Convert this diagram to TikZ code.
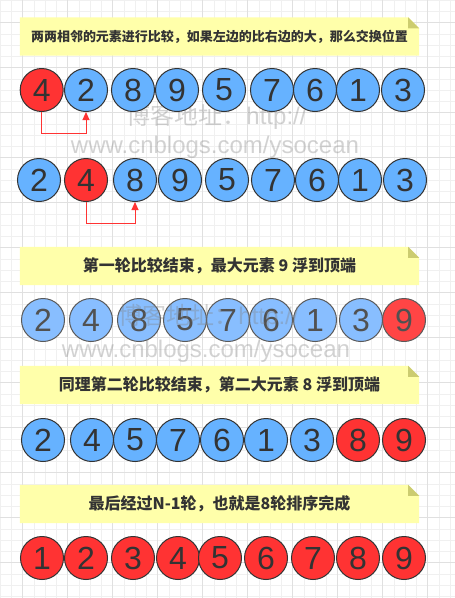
\documentclass[tikz,border=0pt]{standalone}
\usepackage{fontspec}
\setmainfont{Liberation Sans}
\newfontfamily\cjk{Noto Sans CJK SC}
\usetikzlibrary{arrows.meta,backgrounds}
\definecolor{cred}{HTML}{FF3333}
\definecolor{cblue}{HTML}{66B2FF}
\definecolor{cline}{HTML}{333333}
\definecolor{lred}{HTML}{FF4545}
\definecolor{lblue}{HTML}{88BEFF}
\definecolor{lline}{HTML}{5A5A5A}
\definecolor{notefill}{HTML}{FFFFAA}
\definecolor{foldfill}{HTML}{CCCC70}
\definecolor{gridminor}{HTML}{F0F0F0}
\definecolor{gridmajor}{HTML}{E0E0E0}
\tikzset{
  ball/.style={circle,minimum size=43pt,inner sep=0pt,draw=cline,line width=1pt,
    text=cline,font=\fontsize{32}{32}\selectfont},
  redball/.style={ball,fill=cred},
  blueball/.style={ball,fill=cblue},
  lredball/.style={ball,fill=lred,draw=lline,text=lline!90!black},
  lblueball/.style={ball,fill=lblue,draw=lline,text=lline!90!black},
  notetext/.style={minimum width=399pt,minimum height=38pt,inner sep=0pt,
    text=cline,font=\cjk\bfseries\fontsize{13}{13}\selectfont},
  bignote/.style={notetext,font=\cjk\bfseries\fontsize{16}{16}\selectfont},
  redarrow/.style={draw=cred,line width=1pt,-{Triangle[length=8pt,width=7pt]}},
  wmark/.style={text=gray,text opacity=0.35,font=\fontsize{24}{24}\selectfont,inner sep=0pt}
}
\begin{document}
\begin{tikzpicture}[x=1pt,y=-1pt]
\useasboundingbox (0,0) rectangle (455,598);
\begin{scope}[on background layer]
  \fill[white] (0,0) rectangle (455,598);
  \foreach \i in {0,...,53} {
    \draw[gridminor,line width=0.6pt] ({0.2+11.25*\i},0) -- ({0.2+11.25*\i},598);
    \draw[gridminor,line width=0.6pt] (0,{0.2+11.25*\i}) -- (455,{0.2+11.25*\i});
  }
  \foreach \i in {0,...,12} {
    \draw[gridmajor,line width=0.6pt] ({22.7+45*\i},0) -- ({22.7+45*\i},598);
    \draw[gridmajor,line width=0.6pt] (0,{22.7+45*\i}) -- (455,{22.7+45*\i});
  }
\end{scope}

% notes
\node[notetext] (n1) at (219.5,36.5) {两两相邻的元素进行比较，如果左边的比右边的大，那么交换位置};
\node[bignote] (n2) at (219.5,266) {第一轮比较结束，最大元素 9 浮到顶端};
\node[bignote] (n3) at (219.5,385) {同理第二轮比较结束，第二大元素 8 浮到顶端};
\node[bignote] (n4) at (219.5,504) {最后经过N-1轮，也就是8轮排序完成};
\begin{scope}[on background layer]
  \foreach \n in {n1,n2,n3,n4} {
    \fill[notefill] (\n.south west) -- (\n.north west) -- ([xshift=-11pt]\n.north east)
      -- ([yshift=-11pt]\n.north east) -- (\n.south east) -- cycle;
    \fill[foldfill] ([xshift=-11pt]\n.north east) -- ([xshift=-11pt,yshift=-11pt]\n.north east)
      -- ([yshift=-11pt]\n.north east) -- cycle;
  }
\end{scope}

% watermarks behind rows 1/2
\node[wmark] (w1) at (216.5,117) {{\cjk 博客地址：}http://};
\node[wmark] (w2) at (215,147) {www.cnblogs.com/ysocean};

% row 1
\foreach \x/\v/\s [count=\k] in {41.7/4/redball,86/2/blueball,133/8/blueball,177/9/blueball,224/5/blueball,272/7/blueball,315/6/blueball,358/1/blueball,403/3/blueball}
  \node[\s] (r1c\k) at (\x,90) {\v};
% row 2
\foreach \x/\v/\s [count=\k] in {39/2/blueball,86/4/redball,135/8/blueball,180/9/blueball,227/5/blueball,273/7/blueball,317/6/blueball,360/1/blueball,405/3/blueball}
  \node[\s] (r2c\k) at (\x,180) {\v};
% row 3
\foreach \x/\v/\s [count=\k] in {43/2/lblueball,91/4/lblueball,139/8/lblueball,185/5/lblueball,228/7/lblueball,271/6/lblueball,315/1/lblueball,361/3/lblueball,404/9/lredball}
  \node[\s] (r3c\k) at (\x,320) {\v};
% row 4
\foreach \x/\v/\s [count=\k] in {43/2/blueball,92/4/blueball,135/5/blueball,178/7/blueball,222/6/blueball,266/1/blueball,312/3/blueball,358/8/redball,404/9/redball}
  \node[\s] (r4c\k) at (\x,440) {\v};
% row 5
\foreach \x/\v [count=\k] in {42/1,86/2,133/3,178/4,220/5,266/6,313/7,358/8,404/9}
  \node[redball] (r5c\k) at (\x,558) {\v};

% swap arrows
\draw[redarrow] (r1c1.south) -- ++(0,21) -| (r1c2.south);
\draw[redarrow] (r2c2.south) -- ++(0,21) -| (r2c3.south);

% watermarks over row 3
\node[wmark] (w3) at (208.5,317) {{\cjk 博客地址：}http://};
\node[wmark] (w4) at (206,351) {www.cnblogs.com/ysocean};
\end{tikzpicture}
\end{document}
